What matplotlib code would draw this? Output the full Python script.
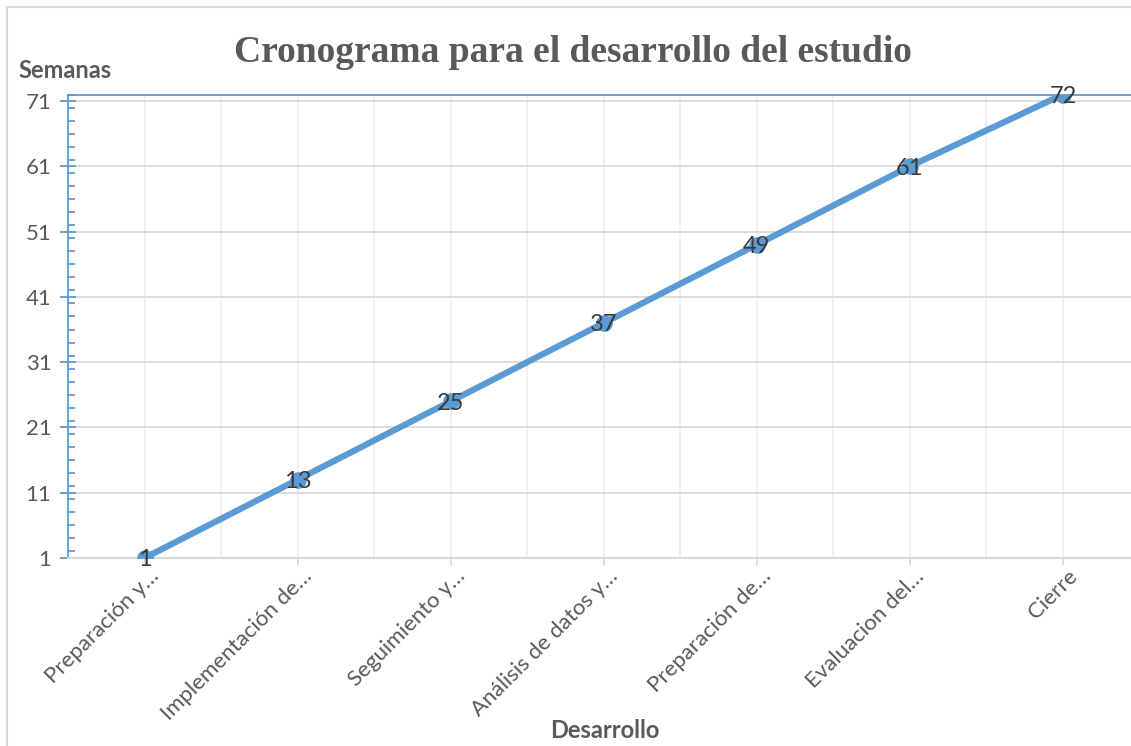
import numpy as np
import matplotlib.pyplot as plt
from matplotlib.ticker import MultipleLocator, FixedLocator
import matplotlib.transforms as mtransforms

# datos del cronograma
etapas = ["Preparación y…", "Implementación de…", "Seguimiento y…",
          "Análisis de datos y…", "Preparación de…", "Evaluacion del…", "Cierre"]
semanas = [1, 13, 25, 37, 49, 61, 72]
yticks = [1, 11, 21, 31, 41, 51, 61, 71]

azul = "#5B9BD5"
gris_txt = "#595959"
plt.rcParams['font.family'] = ['Lato', 'DejaVu Sans']

fig = plt.figure(figsize=(11.31, 7.46), dpi=100)
# el eje se sale por la derecha, como en la captura original
ax = fig.add_axes([68 / 1131, 1 - 558 / 746, (1139.5 - 68) / 1131, (558 - 94.5) / 746])

x = np.arange(len(etapas))
ax.plot(x, semanas, color=azul, lw=4.5, marker="o", ms=11, solid_capstyle="round", zorder=3)
lab_off = mtransforms.ScaledTranslation(0, -2 / 100, fig.dpi_scale_trans)
for xi, yi in zip(x, semanas):
    ax.text(xi, yi, str(yi), ha="center", va="center", fontsize=17, color="#3a3a3a", zorder=4,
            transform=ax.transData + lab_off)

ax.set_xlim(-0.5, 6.5)
ax.set_ylim(1, 72)
ax.set_yticks(yticks)
ax.yaxis.set_minor_locator(MultipleLocator(2))
ax.set_xticks(x)
ax.set_xticklabels([])
ax.xaxis.set_minor_locator(FixedLocator(np.arange(0.5, 6.5, 1)))

ax.grid(axis="y", which="major", color="#d9d9d9", lw=1.3)
ax.grid(axis="x", which="both", color="#efefef", lw=1.3)
ax.set_axisbelow(True)

for s in ["left", "top"]:
    ax.spines[s].set_color(azul)
    ax.spines[s].set_linewidth(1.3)
ax.spines["right"].set_visible(False)
ax.spines["bottom"].set_color("#d9d9d9")
ax.spines["bottom"].set_linewidth(1.5)

ax.tick_params(axis="y", which="major", direction="inout", length=12, color=azul, width=1.3,
               labelsize=16, labelcolor=gris_txt, pad=6)
ax.tick_params(axis="y", which="minor", direction="in", length=5, color=azul, width=1.3)
ax.tick_params(axis="x", which="major", direction="out", length=5, color="#d9d9d9", width=1.3)
ax.tick_params(axis="x", which="minor", length=0)

# etiquetas de categorías giradas
off = mtransforms.ScaledTranslation(11 / 100, -15 / 100, fig.dpi_scale_trans)
for xi, lab in zip(x, etapas):
    ax.text(xi, 1, lab, rotation=45, rotation_mode="anchor", ha="right", va="center",
            fontsize=16, color=gris_txt, transform=ax.transData + off, clip_on=False)

fig.text(573 / 1131, 1 - 52 / 746, "Cronograma para el desarrollo del estudio",
         ha="center", va="center", fontsize=27, fontweight="bold", color="#595959",
         family="Liberation Serif")
fig.text(18 / 1131, 1 - 70 / 746, "Semanas", ha="left", va="center", fontsize=17,
         fontweight="bold", color=gris_txt)
fig.text(605 / 1131, 1 - 731 / 746, "Desarrollo", ha="center", va="center", fontsize=17,
         fontweight="bold", color=gris_txt)

# marco gris del gráfico
fig.add_artist(plt.Rectangle((7 / 1131, -0.1), 1.2, 1 - 7 / 746 + 0.1, transform=fig.transFigure,
                             fill=False, ec="#d9d9d9", lw=1.5))

fig.savefig("out.png", dpi=100)
